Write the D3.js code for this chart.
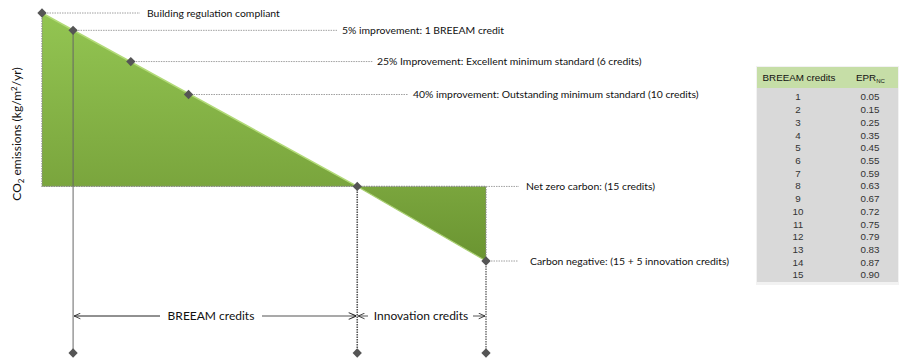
<!DOCTYPE html>
<html><head><meta charset="utf-8">
<script src="https://cdn.jsdelivr.net/npm/d3@7"></script>
<style>body{margin:0;background:#fff}svg{display:block}</style>
</head><body>
<script>
// ---- data ----
const stageLabels = [
  "Building regulation compliant",
  "5% improvement: 1 BREEAM credit",
  "25% Improvement: Excellent minimum standard (6 credits)",
  "40% improvement: Outstanding minimum standard (10 credits)",
  "Net zero carbon: (15 credits)",
  "Carbon negative: (15 + 5 innovation credits)"
];
const stagePosition = [0, 7, 20, 33, 71, 100];   // relative position along credit axis
const emissions = [100, 90, 72, 53, 0, -43];     // relative CO2 emissions
const tableCredits = [1,2,3,4,5,6,7,8,9,10,11,12,13,14,15];
const tableEPR = ["0.05","0.15","0.25","0.35","0.45","0.55","0.59","0.63","0.67","0.72","0.75","0.79","0.83","0.87","0.90"];
const spanLabels = ["BREEAM credits", "Innovation credits"];

// ---- layout ----
const W = 901, H = 360;
const labelX = [147, 342, 377, 413, 526, 530];
const svg = d3.select("body").append("svg").attr("width", W).attr("height", H);
const x = d3.scaleLinear([0, 100], [42, 486]);
const y = d3.scaleLinear([-43, 100], [261, 13]);
const bottomY = 353;
const font = "Lato, 'Open Sans', sans-serif";

const defs = svg.append("defs");
const g1 = defs.append("linearGradient").attr("id", "grn").attr("gradientUnits", "userSpaceOnUse")
  .attr("x1", 0).attr("y1", y(100)).attr("x2", 0).attr("y2", y(-43));
g1.append("stop").attr("offset", 0).attr("stop-color", "#93c552");
g1.append("stop").attr("offset", 0.7).attr("stop-color", "#7aa53d");
g1.append("stop").attr("offset", 1).attr("stop-color", "#6a9431");

const pts = stagePosition.map((p, i) => [x(p), y(emissions[i])]);
const line = d3.line();

// main area (compliant -> net zero)
svg.append("path").attr("d", line([pts[0], pts[4], [x(0), y(0)]]) + "Z")
  .attr("fill", "url(#grn)");
const poly2 = [pts[4], [x(100), y(0)], pts[5]];
svg.append("path").attr("d", line(poly2) + "Z").attr("fill", "url(#grn)");

// highlight on diagonal
svg.append("path").attr("d", line([pts[0], pts[4]])).attr("stroke", "#b2da78").attr("stroke-width", 1.5).attr("fill", "none");
svg.append("path").attr("d", line([pts[4], pts[5]])).attr("stroke", "#a9cf72").attr("stroke-width", 1.2).attr("fill", "none");

// dotted borders
const dotted = (pathPts, col = "#8a8a8a", w = 1.2) => svg.append("path").attr("d", line(pathPts))
  .attr("fill", "none").attr("stroke", col).attr("stroke-width", w).attr("stroke-dasharray", "1.5,1");
dotted([[x(0), y(100)], [x(0), y(0)], [x(100), y(0)], [x(100), y(-43)]]);

// vertical lines
svg.append("line").attr("x1", x(stagePosition[1])).attr("x2", x(stagePosition[1]))
  .attr("y1", pts[1][1]).attr("y2", bottomY).attr("stroke", "#666").attr("stroke-width", 1);
dotted([[x(stagePosition[4]), y(0)], [x(stagePosition[4]), bottomY]], "#555", 1.6);
dotted([[x(100), y(-43)], [x(100), bottomY]], "#666", 1.4);

// leader lines + labels
const leaderEnd = [140, 337, 373, 408, 519, 518];
stageLabels.forEach((t, i) => {
  const [px, py] = (i === 4) ? [x(100), y(0)] : pts[i];
  dotted([[px, py], [leaderEnd[i], py]], "#a0a0a0", 1);
  svg.append("text").attr("x", labelX[i]).attr("y", py).attr("dy", "0.35em")
    .attr("font-family", font).attr("font-size", 10.4).attr("fill", "#111").text(t);
});

// diamonds
const diamond = d3.symbol().type(d3.symbolDiamond2).size(55);
const diaPts = pts.concat([[x(stagePosition[1]), bottomY], [x(stagePosition[4]), bottomY], [x(100), bottomY]]);
svg.selectAll(".dia").data(diaPts).join("path")
  .attr("transform", d => `translate(${d[0]},${d[1]})`).attr("d", diamond).attr("fill", "#555");

// y label
const yl = svg.append("text").attr("transform", "translate(21,134) rotate(-90)")
  .attr("text-anchor", "middle").attr("font-family", font).attr("font-size", 12).attr("fill", "#111");
yl.append("tspan").text("CO");
yl.append("tspan").attr("font-size", 8).attr("baseline-shift", "-3").text("2");
yl.append("tspan").text(" emissions (kg/m");
yl.append("tspan").attr("font-size", 8).attr("baseline-shift", "4").text("2");
yl.append("tspan").text("/yr)");

// span arrows
const arrowY = 316;
defs.append("marker").attr("id", "arr").attr("viewBox", "0 0 10 10").attr("refX", 10).attr("refY", 5)
  .attr("markerWidth", 7).attr("markerHeight", 7).attr("orient", "auto-start-reverse")
  .append("path").attr("d", "M1,1 L10,5 L1,9").attr("fill", "none").attr("stroke", "#222").attr("stroke-width", 1.2);
const x1 = x(stagePosition[1]), x2 = x(stagePosition[4]), x3 = x(100);
svg.append("line").attr("x1", x1 + 1).attr("x2", 160).attr("y1", arrowY).attr("y2", arrowY)
  .attr("stroke", "#222").attr("marker-start", "url(#arr)");
svg.append("line").attr("x1", 262).attr("x2", x2 - 1).attr("y1", arrowY).attr("y2", arrowY)
  .attr("stroke", "#555").attr("stroke-width", 1.2).attr("marker-end", "url(#arr)");
svg.append("line").attr("x1", x2 + 1).attr("x2", 368).attr("y1", arrowY).attr("y2", arrowY)
  .attr("stroke", "#555").attr("marker-start", "url(#arr)");
svg.append("line").attr("x1", 473).attr("x2", x3 - 1).attr("y1", arrowY).attr("y2", arrowY)
  .attr("stroke", "#555").attr("marker-end", "url(#arr)");
svg.append("text").attr("x", 211).attr("y", arrowY).attr("dy", "0.35em").attr("text-anchor", "middle")
  .attr("font-family", font).attr("font-size", 12).attr("fill", "#111").text(spanLabels[0]);
svg.append("text").attr("x", 421).attr("y", arrowY).attr("dy", "0.35em").attr("text-anchor", "middle")
  .attr("font-family", font).attr("font-size", 12).attr("fill", "#111").text(spanLabels[1]);

// table
const tx = 757, tw = 141, ty = 67, hh = 21;
const tf = "'Liberation Sans', Arial, sans-serif";
const rowY = d3.scaleLinear([1, 15], [97, 275]);
svg.append("rect").attr("x", tx - 1).attr("y", ty - 1).attr("width", tw + 2).attr("height", 284 - ty + 2).attr("fill", "#f2f2f2");
svg.append("rect").attr("x", tx).attr("y", ty).attr("width", tw).attr("height", hh).attr("fill", "#c6dea7");
svg.append("rect").attr("x", tx).attr("y", ty + hh).attr("width", tw).attr("height", 282 - ty - hh).attr("fill", "#d9d9d9");
svg.append("text").attr("x", 799).attr("y", ty + hh / 2).attr("dy", "0.35em").attr("text-anchor", "middle")
  .attr("font-family", tf).attr("font-size", 9.8).attr("fill", "#111").text("BREEAM credits");
const eh = svg.append("text").attr("x", 856).attr("y", ty + hh / 2).attr("dy", "0.35em")
  .attr("font-family", tf).attr("font-size", 9.8).attr("fill", "#111");
eh.append("tspan").text("EPR");
eh.append("tspan").attr("font-size", 6).attr("baseline-shift", "-2").text("NC");
svg.selectAll(".c1").data(tableCredits).join("text").attr("x", 798).attr("y", d => rowY(d)).attr("dy", "0.35em")
  .attr("text-anchor", "middle").attr("font-family", tf).attr("font-size", 9.8).attr("fill", "#333").text(d => d);
svg.selectAll(".c2").data(tableEPR).join("text").attr("x", 870).attr("y", (d, i) => rowY(tableCredits[i])).attr("dy", "0.35em")
  .attr("text-anchor", "middle").attr("font-family", tf).attr("font-size", 9.8).attr("fill", "#333").text(d => d);
</script>
</body></html>
